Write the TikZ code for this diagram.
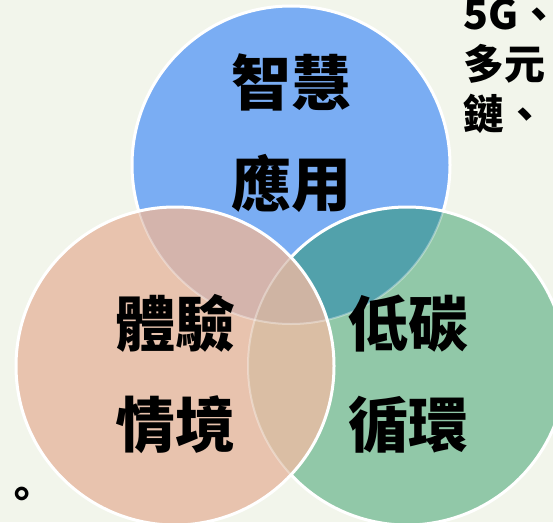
\documentclass[tikz,border=0pt]{standalone}
\usepackage{fontspec}
\usepackage{xcolor}
\usepackage{tikz}
\newfontfamily\cjk{Noto Sans CJK TC}

\definecolor{bgcol}{HTML}{F2F5EB}
\definecolor{bluec}{HTML}{7AADF3}
\definecolor{greenc}{HTML}{91C8A8}
\definecolor{salmonc}{HTML}{E8C3AE}
\definecolor{bluegreen}{HTML}{52A1AB}
\definecolor{bluesalmon}{HTML}{D4B4AC}
\definecolor{greensalmon}{HTML}{DABEA4}
\definecolor{allthree}{HTML}{CFB4A3}

\tikzset{
  ring/.style={draw=white,line width=3pt},
  faintring/.style={draw=white,draw opacity=.35,line width=2pt},
  biglbl/.style={font=\cjk\bfseries\fontsize{60}{101}\selectfont,align=center,inner sep=0pt},
  note/.style={font=\cjk\bfseries\fontsize{41}{50}\selectfont,inner sep=0pt}
}

\begin{document}
\begin{tikzpicture}[x=1pt,y=-1pt]
    \useasboundingbox (0,0) rectangle (553,522);
    \fill[bgcol] (0,0) rectangle (553,522);
    \def\rad{159}
    \coordinate (cb) at (291,165);
    \coordinate (cg) at (407,366);
    \coordinate (cs) at (175,366);
    % top circle
    \fill[bluec] (cb) circle (\rad);
    \draw[ring] (cb) circle (\rad);
    % right circle
    \fill[greenc] (cg) circle (\rad);
    \begin{scope}
      \clip (cg) circle (\rad);
      \fill[bluegreen] (cb) circle (\rad);
      \draw[faintring] (cb) circle (\rad);
    \end{scope}
    \draw[ring] (cg) circle (\rad);
    % left circle
    \fill[salmonc] (cs) circle (\rad);
    \begin{scope}
      \clip (cs) circle (\rad);
      \fill[bluesalmon] (cb) circle (\rad);
      \fill[greensalmon] (cg) circle (\rad);
      \clip (cb) circle (\rad);
      \fill[allthree] (cg) circle (\rad);
    \end{scope}
    \begin{scope}
      \clip (cs) circle (\rad);
      \foreach \c in {cb,cg}
      \draw[faintring] (\c) circle (\rad);
    \end{scope}
    \draw[ring] (cs) circle (\rad);
    % labels
    \node[biglbl] (smart) at (291,133) {智慧\\應用};
    \node[biglbl] (exper) at (175,374) {體驗\\情境};
    \node[biglbl] (lowc) at (408,374) {低碳\\循環};
    \foreach \t [count=\i] in {5G、,多元,鏈、}
    \node[note,anchor=base west] (note\i) at (463,{29+50*(\i-1)}) {\t};
    \node[note] (stop) at (22,498) {。};
  \end{tikzpicture}
\end{document}
